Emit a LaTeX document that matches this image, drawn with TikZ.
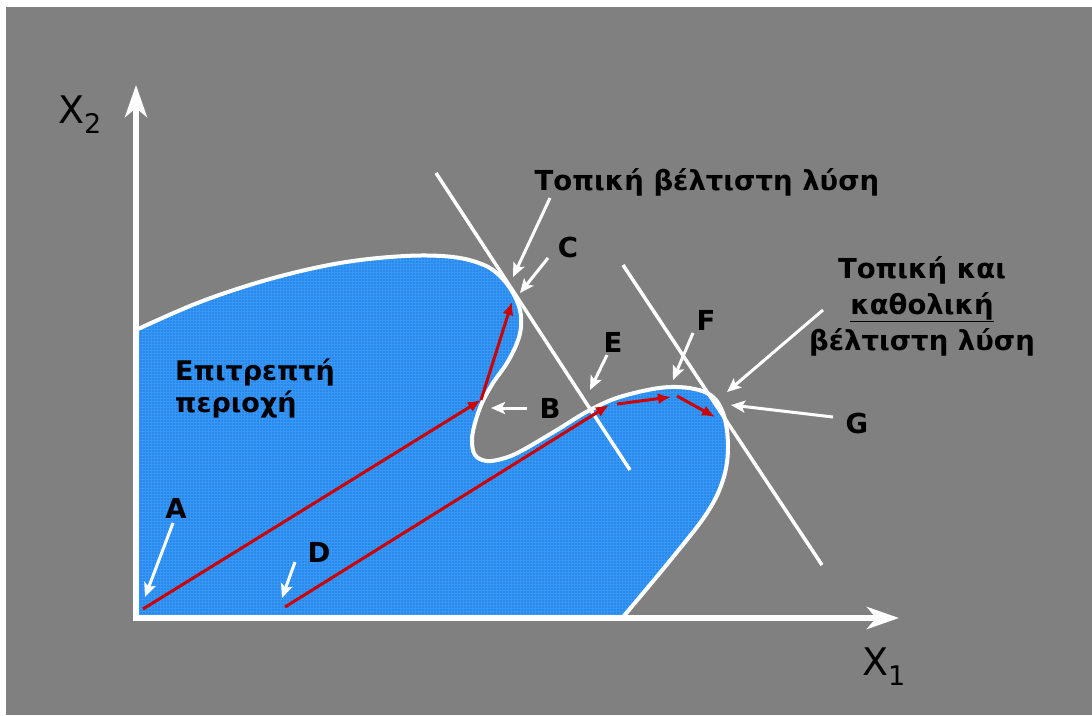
\documentclass[tikz,border=0pt]{standalone}
\usepackage{fontspec}
\setmainfont{DejaVu Sans}
\usetikzlibrary{arrows.meta,patterns.meta}
\definecolor{bgc}{HTML}{808080}
\definecolor{regc}{HTML}{3399FF}
\definecolor{dotc}{HTML}{1C4C88}
\definecolor{redc}{HTML}{CC0000}
\begin{document}
\begin{tikzpicture}[x=1pt,y=-1pt,
  lbl/.style={font=\bfseries\fontsize{27.5}{36}\selectfont, text=black, inner sep=0pt},
  axislbl/.style={font=\fontsize{38}{40}\selectfont, text=black, inner sep=0pt},
  axisline/.style={white, line width=5.5pt, -{Stealth[length=32pt,width=22pt,inset=9pt]}},
  ptr/.style={white, line width=3pt, -{Stealth[length=14pt,width=12pt,inset=3pt]}},
  redarrow/.style={redc, line width=3pt, -{Latex[length=13pt,width=11pt]}},
  tline/.style={white, line width=3.5pt},
]
\useasboundingbox (0,0) rectangle (1092,715);
\fill[white] (0,0) rectangle (1092,715);
\fill[bgc] (6,7) rectangle (1092,715);

% feasible region
\path[preaction={fill=regc}, preaction={pattern={Dots[distance=3pt,radius=0.55pt]}, pattern color=dotc},
      draw=white, line width=4pt]
  plot[smooth, tension=0.6] coordinates {(136,330) (200,302) (270,279) (340,263) (405,256) (453,257) (484,265) (501,277) (513,293) (520,310) (521,327) (517,343) (507,363) (493,383) (482,403) (475,423) (472,440) (475,455) (487,461) (505,458) (523,450) (557,430) (590,410) (623,396) (670,387) (707,393) (723,413) (728,447) (723,480) (707,513) (673,557) (623,617)}
  -- (136,617) -- cycle;

% tangent lines
\coordinate (l1a) at (436,173);
\coordinate (l1b) at (630,470);
\coordinate (l2a) at (623,265);
\coordinate (l2b) at (822,565);
\draw[tline] (l1a) -- (l1b);
\draw[tline] (l2a) -- (l2b);

% axes
\coordinate (O) at (136,618);
\coordinate (yend) at (136,85);
\coordinate (xend) at (899,618);
\draw[axisline] ([yshift=2.75pt]O) -- (yend);
\draw[axisline] ([xshift=-2.75pt]O) -- (xend);

% red search paths
\coordinate (a0) at (143,609);
\coordinate (a1) at (481,400);
\coordinate (a2) at (512,302);
\coordinate (d0) at (285,607);
\coordinate (d1) at (609,405);
\coordinate (d2s) at (617,404);
\coordinate (d2) at (671,397);
\coordinate (d3s) at (677,396);
\coordinate (d3) at (715,417);
\draw[redarrow] (a0) -- (a1);
\draw[redarrow] (a1) -- (a2);
\draw[redarrow] (d0) -- (d1);
\draw[redarrow] (d2s) -- (d2);
\draw[redarrow] (d3s) -- (d3);

% labels
\node[axislbl, anchor=base west] (x2) at (58,123) {X\raisebox{-10pt}{\fontsize{27}{27}\selectfont 2}};
\node[axislbl, anchor=base west] (x1) at (862,675) {X\raisebox{-10pt}{\fontsize{27}{27}\selectfont 1}};
\node[lbl, anchor=base] (t1) at (707,190) {Τοπική βέλτιστη λύση};
\node[lbl, anchor=base, align=center] (t2) at (922,350) {Τοπική και\\\underline{καθολική}\\βέλτιστη λύση};
\node[lbl, anchor=base west, align=left, font=\bfseries\fontsize{27}{32}\selectfont] (feas) at (175,412) {Επιτρεπτή\\περιοχή};
\node[lbl, anchor=base] (tA) at (176,518) {A};
\node[lbl, anchor=base] (tB) at (550,418) {B};
\node[lbl, anchor=base] (tC) at (568,257) {C};
\node[lbl, anchor=base] (tD) at (319,562) {D};
\node[lbl, anchor=base] (tE) at (613,352) {E};
\node[lbl, anchor=base] (tF) at (706,330) {F};
\node[lbl, anchor=base] (tG) at (857,433) {G};

% white pointers
\coordinate (s1) at (550,198);  \coordinate (e1) at (513,277);
\coordinate (sC) at (548,258);  \coordinate (eC) at (520,293);
\coordinate (sB) at (527,408);  \coordinate (eB) at (491,408);
\coordinate (sE) at (607,355);  \coordinate (eE) at (590,390);
\coordinate (sF) at (693,333);  \coordinate (eF) at (673,380);
\coordinate (s2) at (823,310);  \coordinate (e2) at (727,392);
\coordinate (sG) at (833,417);  \coordinate (eG) at (731,405);
\coordinate (sA) at (173,523);  \coordinate (eA) at (145,597);
\coordinate (sD) at (295,562);  \coordinate (eD) at (282,598);
\draw[ptr] (s1) -- (e1);
\draw[ptr] (sC) -- (eC);
\draw[ptr] (sB) -- (eB);
\draw[ptr] (sE) -- (eE);
\draw[ptr] (sF) -- (eF);
\draw[ptr] (s2) -- (e2);
\draw[ptr] (sG) -- (eG);
\draw[ptr] (sA) -- (eA);
\draw[ptr] (sD) -- (eD);
\end{tikzpicture}
\end{document}
